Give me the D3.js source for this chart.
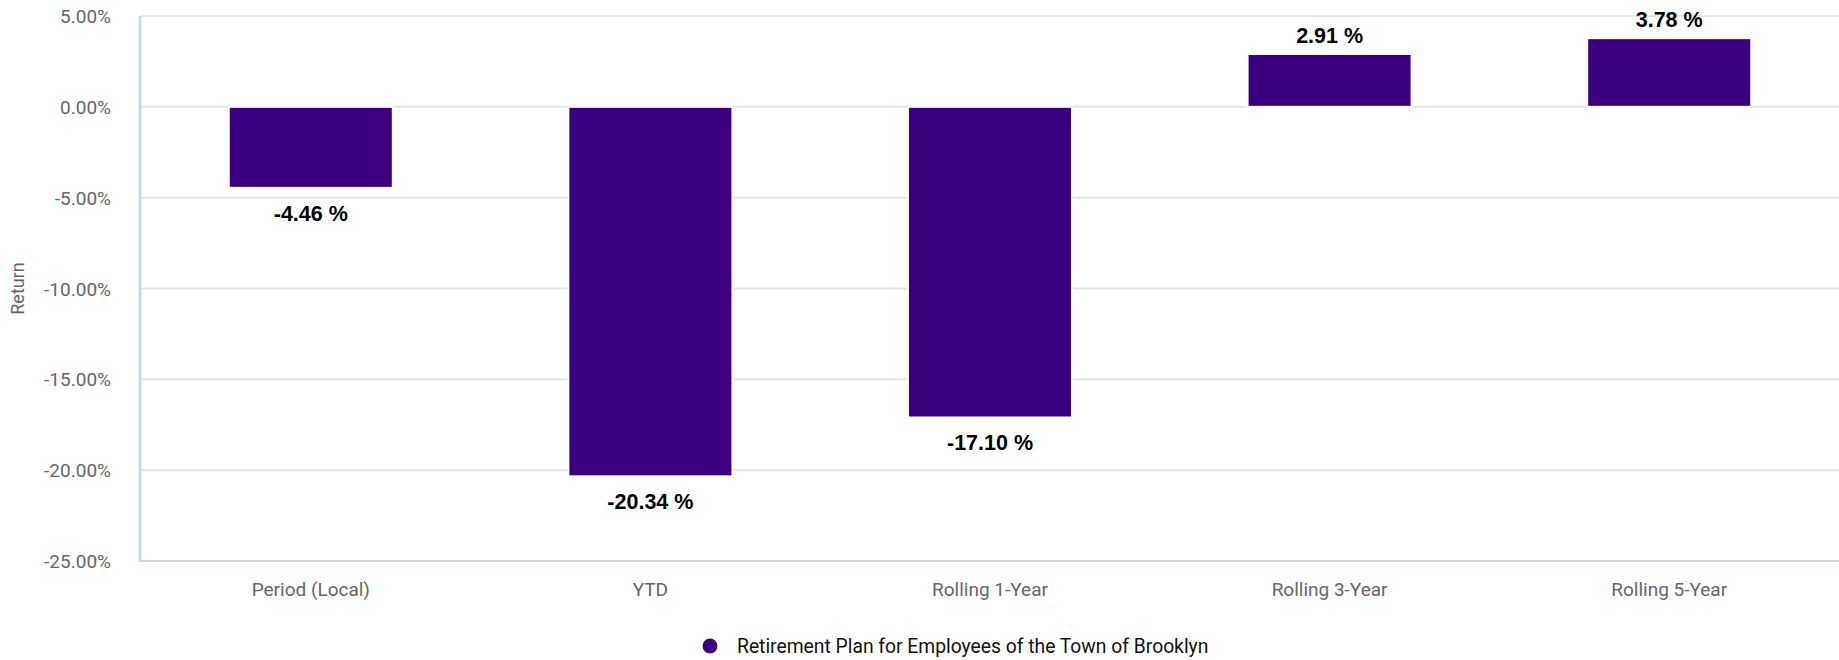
<!DOCTYPE html>
<html>
<head>
<meta charset="utf-8">
<script src="https://cdn.jsdelivr.net/npm/d3@7"></script>
<style>
  html, body { margin: 0; padding: 0; background: #fff; }
  svg { display: block; }
</style>
</head>
<body>
<svg id="chart" width="1839" height="660"></svg>
<script>
// Return by period
const categories = ["Period (Local)", "YTD", "Rolling 1-Year", "Rolling 3-Year", "Rolling 5-Year"];
const returns = [-4.46, -20.34, -17.10, 2.91, 3.78];
const yTicks = [5, 0, -5, -10, -15, -20, -25];
const seriesName = "Retirement Plan for Employees of the Town of Brooklyn";
const yTitle = "Return";

const W = 1839, H = 660;
const plot = { left: 141, right: 1839, top: 16, bottom: 561 };
const barColor = "#3b0080";
const axisColor = "#ccd6eb";
const gridColor = "#e6e6e6";
const labelFont = "Roboto, 'Noto Sans', sans-serif";

// plain hyphen for negative numbers
const fmt = d3.formatLocale({ decimal: ".", thousands: ",", grouping: [3], currency: ["$", ""], minus: "-" }).format(".2f");

const svg = d3.select("#chart");

const x = d3.scaleBand()
  .domain(categories)
  .range([plot.left, plot.right])
  .paddingInner(0.517)
  .paddingOuter(0.2585);

const y = d3.scaleLinear()
  .domain([-25, 5])
  .range([plot.bottom, plot.top]);

// horizontal gridlines
svg.append("g")
  .selectAll("line")
  .data(yTicks.filter(t => t !== -25))
  .join("line")
  .attr("x1", plot.left)
  .attr("x2", plot.right)
  .attr("y1", d => y(d))
  .attr("y2", d => y(d))
  .attr("stroke", gridColor)
  .attr("stroke-width", 2);

// y axis tick labels
const yAxis = d3.axisLeft(y)
  .tickValues(yTicks)
  .tickSize(0)
  .tickPadding(30)
  .tickFormat(d => fmt(d) + "%");

const gy = svg.append("g")
  .attr("transform", `translate(${plot.left},0)`)
  .call(yAxis);
gy.select(".domain").remove();
gy.selectAll("text")
  .attr("font-family", labelFont)
  .attr("font-size", 19)
  .attr("fill", "#666666")
  .attr("dy", "0.35em");

// y axis title
svg.append("text")
  .attr("transform", `translate(24,${(plot.top + plot.bottom) / 2}) rotate(-90)`)
  .attr("text-anchor", "middle")
  .attr("font-family", labelFont)
  .attr("font-size", 18)
  .attr("fill", "#666666")
  .text(yTitle);

// bars
svg.append("g")
  .selectAll("rect")
  .data(returns)
  .join("rect")
  .attr("x", (d, i) => x(categories[i]))
  .attr("width", x.bandwidth())
  .attr("y", d => y(Math.max(0, d)))
  .attr("height", d => Math.abs(y(d) - y(0)))
  .attr("fill", barColor)
  .attr("stroke", "#ffffff")
  .attr("stroke-width", 2);

// value labels
svg.append("g")
  .selectAll("text")
  .data(returns)
  .join("text")
  .attr("x", (d, i) => x(categories[i]) + x.bandwidth() / 2)
  .attr("y", d => d >= 0 ? y(d) - 11 : y(d) + 33)
  .attr("text-anchor", "middle")
  .attr("font-family", "'Liberation Sans', Arial, sans-serif")
  .attr("font-weight", "bold")
  .attr("font-size", 21.5)
  .attr("fill", "#000000")
  .text(d => fmt(d) + " %");

// x axis
const xAxis = d3.axisBottom(x).tickSize(0).tickPadding(0);
const gx = svg.append("g")
  .attr("transform", `translate(0,${plot.bottom})`)
  .call(xAxis);
gx.select(".domain").remove();
gx.selectAll("text")
  .attr("font-family", labelFont)
  .attr("font-size", 19)
  .attr("fill", "#666666")
  .attr("dy", 0)
  .attr("y", 35);

// axis lines
svg.append("line")
  .attr("x1", plot.left - 1).attr("x2", plot.right)
  .attr("y1", plot.bottom).attr("y2", plot.bottom)
  .attr("stroke", axisColor).attr("stroke-width", 2);
svg.append("line")
  .attr("x1", plot.left - 1).attr("x2", plot.left - 1)
  .attr("y1", plot.top).attr("y2", plot.bottom + 1)
  .attr("stroke", axisColor).attr("stroke-width", 3);

// legend
const legend = svg.append("g").attr("transform", "translate(710,646)");
legend.append("circle")
  .attr("r", 7.5)
  .attr("fill", barColor);
legend.append("text")
  .attr("x", 27)
  .attr("y", 6.5)
  .attr("font-family", labelFont)
  .attr("font-size", 19.3)
  .attr("fill", "#111111")
  .text(seriesName);
</script>
</body>
</html>
